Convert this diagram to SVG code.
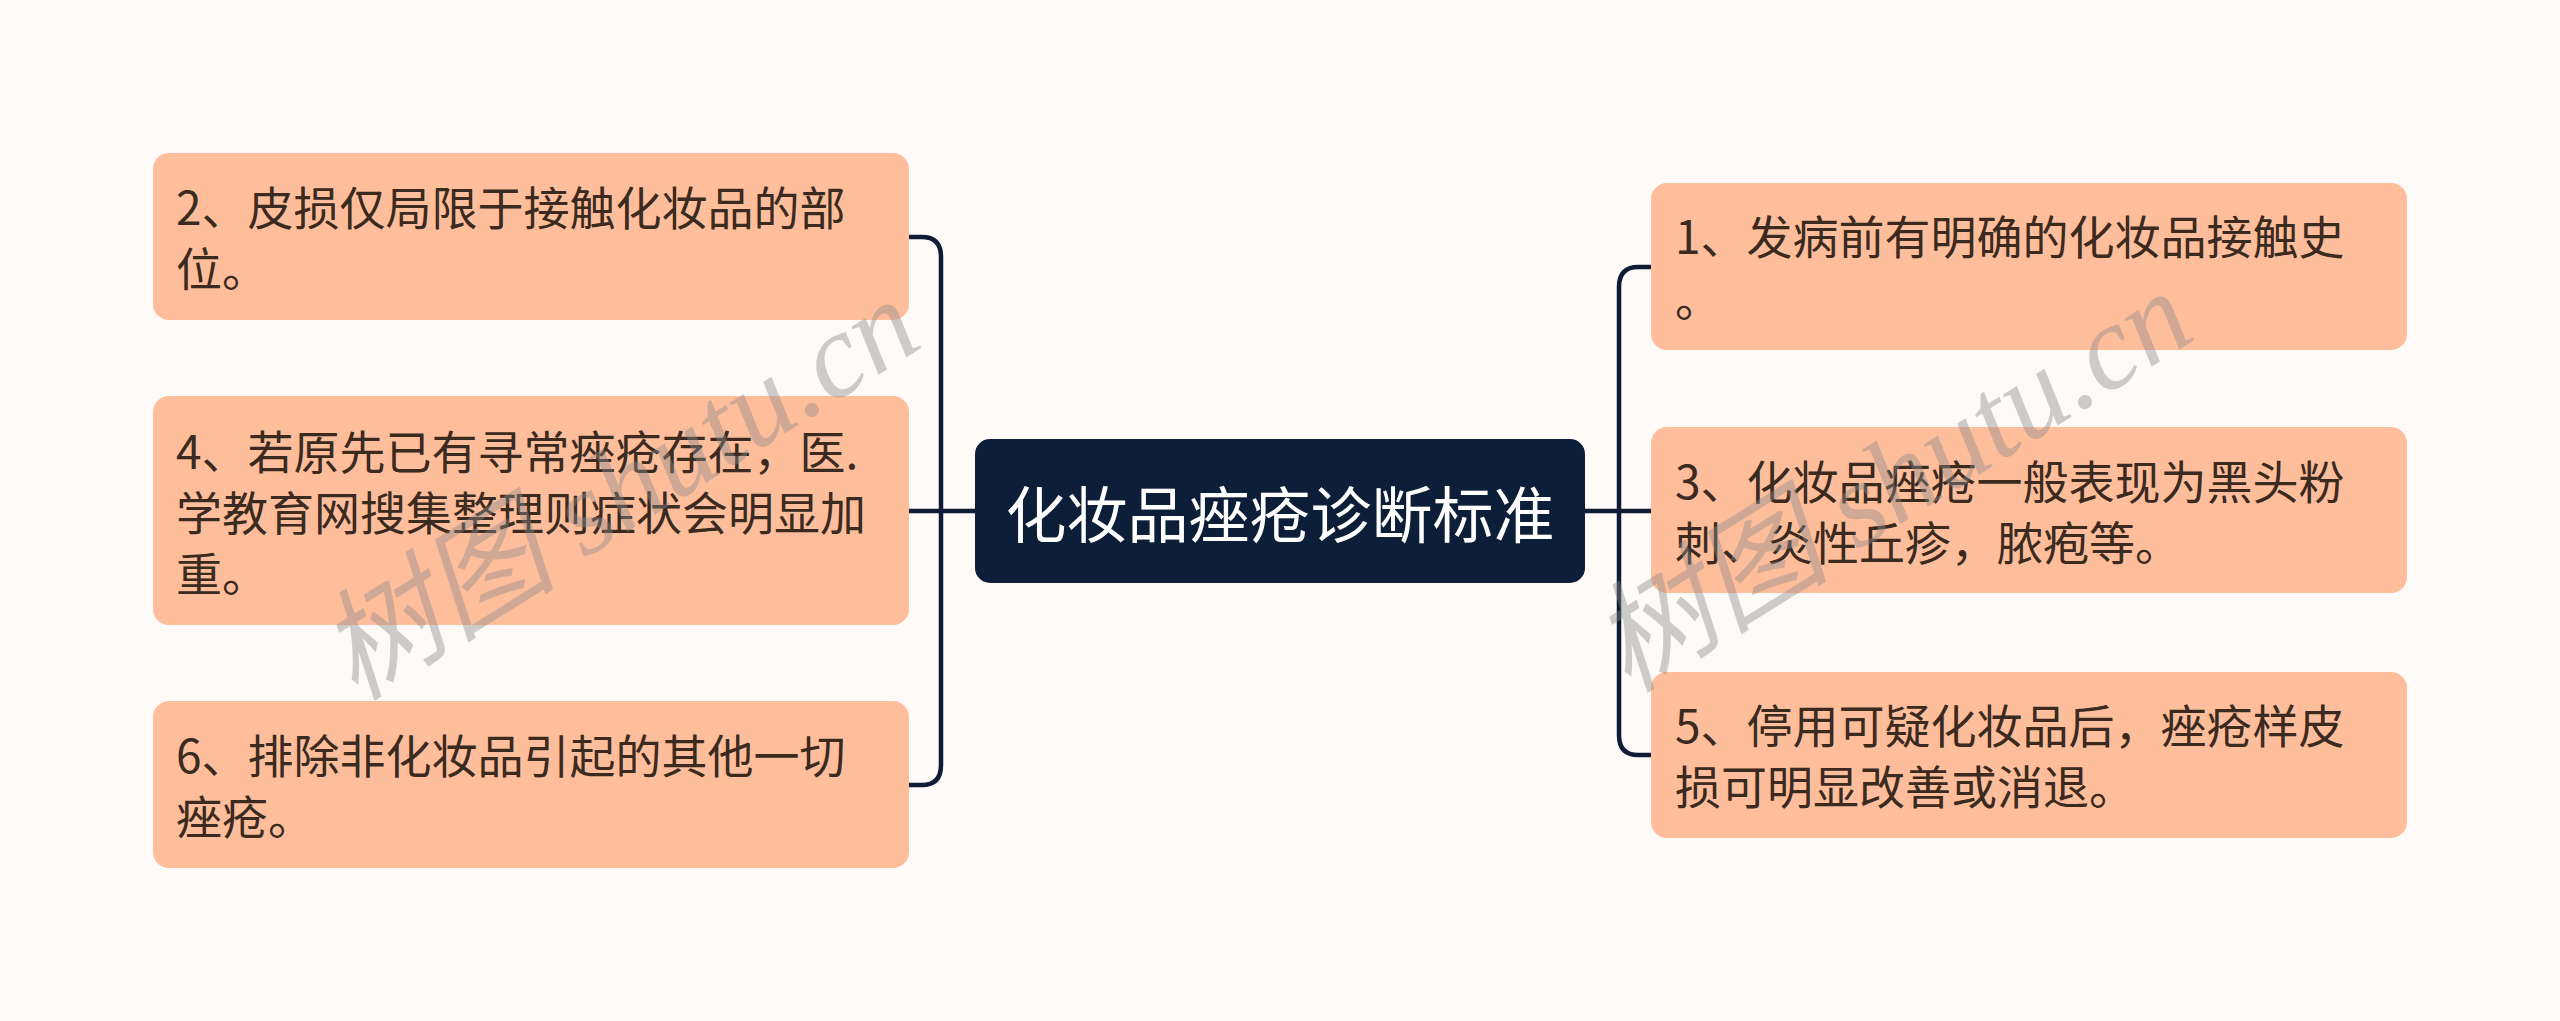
<svg xmlns="http://www.w3.org/2000/svg" width="2560" height="1021" viewBox="0 0 2560 1021">
<style>
.bg{fill:#fefaf8}
.node rect{fill:#ffbe9b}
.node text{font-family:"Noto Sans CJK SC","Noto Sans",sans-serif;font-size:46px;fill:#3a2a20}
.root rect{fill:#0c1e38;stroke:#0c1e38;stroke-width:2}
.root text{font-family:"Noto Sans CJK SC","Noto Sans",sans-serif;font-size:61px;fill:#ffffff}
.conn path{fill:none;stroke:#0e1d35;stroke-width:4.5}
.wm{font-family:"Liberation Serif","Noto Sans CJK SC",serif;font-style:italic;font-size:120px;fill:#8c8c8c;opacity:0.42}
</style>
<rect class="bg" x="0" y="0" width="2560" height="1021"/>
<g id="connectors" class="conn">
<path d="M976 511 H908"/>
<path d="M908 237 H922 Q941 237 941 257 V765 Q941 785 922 785 H908"/>
<path d="M1584 511 H1651"/>
<path d="M1651 267 H1638 Q1619 267 1619 287 V735 Q1619 755 1638 755 H1651"/>
</g>
<g id="root" class="root">
<rect x="976" y="440" width="608" height="142" rx="14"/>
<text x="1280" y="511" text-anchor="middle" dominant-baseline="central">化妆品痤疮诊断标准</text>
</g>
<g id="node2" class="node">
<rect x="153" y="153" width="756" height="167" rx="16"/>
<text x="176"><tspan x="176" y="225">2、皮损仅局限于接触化妆品的部</tspan><tspan x="176" y="286">位。</tspan></text>
</g>
<g id="node4" class="node">
<rect x="153" y="396" width="756" height="229" rx="16"/>
<text x="176"><tspan x="176" y="469">4、若原先已有寻常痤疮存在，医.</tspan><tspan x="176" y="530">学教育网搜集整理则症状会明显加</tspan><tspan x="176" y="591">重。</tspan></text>
</g>
<g id="node6" class="node">
<rect x="153" y="701" width="756" height="167" rx="16"/>
<text x="176"><tspan x="176" y="773">6、排除非化妆品引起的其他一切</tspan><tspan x="176" y="834">痤疮。</tspan></text>
</g>
<g id="node1" class="node">
<rect x="1651" y="183" width="756" height="167" rx="16"/>
<text x="1675"><tspan x="1675" y="254">1、发病前有明确的化妆品接触史</tspan><tspan x="1675" y="316">。</tspan></text>
</g>
<g id="node3" class="node">
<rect x="1651" y="427" width="756" height="166" rx="16"/>
<text x="1675"><tspan x="1675" y="499">3、化妆品痤疮一般表现为黑头粉</tspan><tspan x="1675" y="560">刺、炎性丘疹，脓疱等。</tspan></text>
</g>
<g id="node5" class="node">
<rect x="1651" y="672" width="756" height="166" rx="16"/>
<text x="1675"><tspan x="1675" y="743">5、停用可疑化妆品后，痤疮样皮</tspan><tspan x="1675" y="804">损可明显改善或消退。</tspan></text>
</g>
<g id="watermarks">
<text class="wm" transform="translate(355,702) rotate(-32)">树图 shutu.cn</text>
<text class="wm" transform="translate(1628,694) rotate(-32)">树图 shutu.cn</text>
</g>
</svg>
